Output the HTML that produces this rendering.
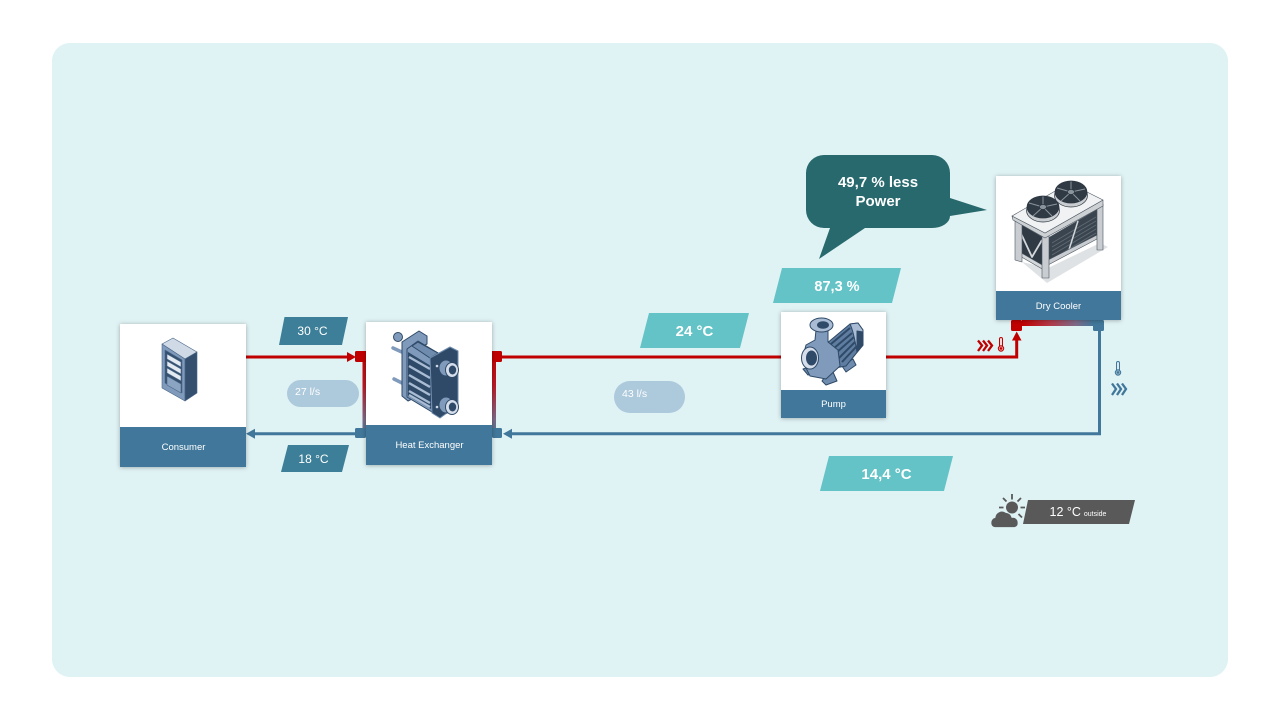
<!DOCTYPE html>
<html><head><meta charset="utf-8">
<style>
html,body{margin:0;padding:0;background:#fff;width:1280px;height:720px;overflow:hidden}
svg{display:block}
text{font-family:"Liberation Sans",sans-serif;fill:#fff;text-anchor:middle}
.b{font-weight:700}
</style></head><body>
<svg width="1280" height="720" viewBox="0 0 1280 720" xmlns="http://www.w3.org/2000/svg">
<defs>
<filter id="s" x="-10%" y="-10%" width="120%" height="120%"><feDropShadow dx="0" dy="0.5" stdDeviation="2" flood-color="#000" flood-opacity=".3"/></filter>
<linearGradient id="gv" x1="0" y1="0" x2="0" y2="1"><stop offset="0" stop-color="#c00000"/><stop offset=".4" stop-color="#bb1a26"/><stop offset=".8" stop-color="#7d6a88"/><stop offset="1" stop-color="#40779a"/></linearGradient>
<linearGradient id="gh" x1="0" y1="0" x2="1" y2="0"><stop offset="0" stop-color="#c00000"/><stop offset=".4" stop-color="#b23a4a"/><stop offset=".75" stop-color="#7d6a88"/><stop offset="1" stop-color="#40779a"/></linearGradient>
</defs>
<rect width="1280" height="720" fill="#fff"/>
<rect x="52" y="43" width="1176" height="634" rx="18" fill="#dff2f4"/>

<!-- connectors -->
<rect x="362.500" y="351" width="4" height="86" fill="url(#gv)"/>
<rect x="492" y="351" width="4" height="86" fill="url(#gv)"/>
<rect x="1022" y="320" width="72" height="6" fill="url(#gh)"/>
<path d="M246 357H349" stroke="#c00000" stroke-width="3" fill="none"/>
<path d="M347 352L356 357L347 362Z" fill="#c00000"/>
<path d="M502 357H781M886 357H1016.700V339" stroke="#c00000" stroke-width="3" fill="none"/>
<path d="M1016.700 331.500L1021.500 340.500H1012Z" fill="#c00000"/>
<path d="M254 433.800H355M1099.500 331V433.800H511" stroke="#40779a" stroke-width="3" fill="none"/>
<path d="M246 433.800L255 428.800V438.800Z" fill="#40779a"/>
<path d="M503 433.800L512 428.800V438.800Z" fill="#40779a"/>
<rect x="355" y="351" width="11" height="11" rx="1.500" fill="#c00000"/>
<rect x="492" y="351" width="10" height="11" rx="1.500" fill="#c00000"/>
<rect x="355" y="428" width="11" height="10" rx="1.500" fill="#40779a"/>
<rect x="492" y="428" width="10" height="10" rx="1.500" fill="#40779a"/>
<rect x="1011" y="320" width="11" height="11" rx="1.500" fill="#c00000"/>
<rect x="1093" y="320" width="11" height="11" rx="1.500" fill="#40779a"/>

<!-- cards -->
<g filter="url(#s)"><rect x="120" y="324" width="126" height="143" fill="#fff"/></g>
<rect x="120" y="427" width="126" height="40" fill="#40779a"/>
<text x="183.500" y="450" font-size="9.500">Consumer</text>
<g filter="url(#s)"><rect x="366" y="322" width="126" height="143" fill="#fff"/></g>
<rect x="366" y="425" width="126" height="40" fill="#40779a"/>
<text x="429.500" y="448" font-size="9.500">Heat Exchanger</text>
<g filter="url(#s)"><rect x="781" y="312" width="105" height="106" fill="#fff"/></g>
<rect x="781" y="390" width="105" height="28" fill="#40779a"/>
<text x="833.500" y="407" font-size="9.500">Pump</text>
<g filter="url(#s)"><rect x="996" y="176" width="125" height="144" fill="#fff"/></g>
<rect x="996" y="291" width="125" height="29" fill="#40779a"/>
<text x="1058.500" y="309" font-size="9.500">Dry Cooler</text>

<!-- server icon -->
<g stroke="#4a6688" stroke-width=".6" stroke-linejoin="round">
<path d="M162 344L173 338L197 352L185 359Z" fill="#d0dae6"/>
<path d="M162 344L185 359V401L162 388Z" fill="#7f9abb"/>
<path d="M185 359L197 352V393L185 401Z" fill="#35506e"/>
<path d="M165 350L182 360V393L165 383Z" fill="#35506e"/>
<path d="M167 354L181 362V367L167 359ZM167 361L181 369V374L167 366ZM167 368L181 376V381L167 373Z" fill="#e4eaf1"/>
<path d="M167 376L181 384V393L167 385Z" fill="#8ba4c2"/>
</g>

<!-- heat exchanger icon -->
<g stroke="#2f4a68" stroke-width="1" stroke-linejoin="round">
<circle cx="398" cy="337" r="4.500" fill="#7f9abb"/>
<path d="M393 348L404 353M394 379L404 384" stroke="#7f9abb" stroke-width="3.500" stroke-linecap="round"/>
<path d="M402 342L419 331L427 336V344L412 352V399L408 401L402 396Z" fill="#7f9abb"/>
<path d="M407 349L418 341L438 353L432 412L407 397Z" fill="#7f9abb"/>
<path d="M412 346L418 342L438 353L430 358Z" fill="#6f8cae"/>
<path d="M408 352L431 366V409L408 396Z" fill="#2f4a68" stroke="none"/>
<path d="M409 357L430 369M409 366L430 378M409 375L430 387M409 383L430 395M409 391L430 403M409 395L430 407" stroke="#a9bcd4" stroke-width="2.400" stroke-linecap="butt"/>
<path d="M430 358L450 347L458 351V405L440 418L432 413Z" fill="#2f4a68" stroke="#6f8cae"/>
<circle cx="437" cy="366" r="1.300" fill="#cfd9e6" stroke="none"/>
<circle cx="437" cy="407" r="1.300" fill="#cfd9e6" stroke="none"/>
<ellipse cx="446" cy="368" rx="7" ry="8" fill="#7f9abb"/>
<ellipse cx="452" cy="370" rx="6.500" ry="7.500" fill="#d5deea"/>
<ellipse cx="452.500" cy="370" rx="3.200" ry="4" fill="#2f4a68"/>
<ellipse cx="446" cy="405" rx="7" ry="8" fill="#7f9abb"/>
<ellipse cx="452" cy="407" rx="6.500" ry="7.500" fill="#d5deea"/>
<ellipse cx="452.500" cy="407" rx="3.200" ry="4" fill="#2f4a68"/>
</g>

<!-- pump icon -->
<g stroke="#2f4a68" stroke-width="1" stroke-linejoin="round">
<path d="M842 366L853 359L856 365L846 372ZM803 369L812 366L818 373L808 375ZM824 378L833 372L837 381L826 385L822 381Z" fill="#6f8cae"/>
<path d="M826 344L850 324L858 323L863 330V345L846 366L835 368L826 358Z" fill="#5f7da0"/>
<path d="M850 324L858 323L863 330V345L857 352C855 340 853 330 850 324Z" fill="#a9bcd4"/>
<path d="M857 331L863 332V345L857 352Z" fill="#2f4a68"/>
<path d="M831 344L850 328M833 349L852 333M836 353L854 337M839 358L855 342M842 362L856 347" stroke="#2f4a68" stroke-width="2"/>
<path d="M816 330L828 330L828 342L838 350L840 366L826 379L810 376L802 360L806 345L815 340Z" fill="#7f9abb"/>
<ellipse cx="821.500" cy="325" rx="11.500" ry="7" fill="#a9bcd4"/>
<ellipse cx="823" cy="325" rx="5.500" ry="3.300" fill="#2f4a68"/>
<ellipse cx="810" cy="358" rx="8.500" ry="11" fill="#d5deea"/>
<ellipse cx="811.500" cy="358" rx="5" ry="7" fill="#2f4a68"/>
</g>

<!-- dry cooler icon -->
<path d="M1022 262L1047 283L1108 247L1100 243L1048 268Z" fill="#dfe2e4"/>
<g stroke="#4a5560" stroke-width=".6" stroke-linejoin="round">
<path d="M1017 222L1044 238V268L1018 253Z" fill="#2f3a45"/>
<path d="M1048 238L1098 209V237L1048 263Z" fill="#39444f"/>
<path d="M1052 243L1096 217M1052 247L1096 221M1052 251L1096 225M1052 255L1096 229M1052 259L1096 233" stroke="#5f6a75" stroke-width=".9"/>
<path d="M1068 253L1078 221" stroke="#d4d7da" stroke-width="1.500"/>
<path d="M1018 227L1032 257L1042 240" stroke="#d4d7da" stroke-width="1.800" fill="none"/>
<path d="M1018 251L1044 266V270L1018 255Z" fill="#d4d7da"/>
<path d="M1048 260L1097 235V239L1048 265Z" fill="#c9cdd1"/>
<path d="M1015 220L1022 224V262L1015 260Z" fill="#c9cdd1"/>
<path d="M1042 236L1049 236V278L1042 278Z" fill="#c9cdd1"/>
<path d="M1097 208L1103 204V250L1097 250Z" fill="#c9cdd1"/>
<path d="M1012 216L1013 220L1045 238L1103 206V200L1045 233Z" fill="#cdd1d4"/>
<path d="M1012 216L1069 183L1103 200L1045 233Z" fill="#f1f2f3"/>
</g>
<g stroke="#2b3640" stroke-width=".7">
<ellipse cx="1043" cy="210.500" rx="16.500" ry="11.500" fill="#c9cdd1"/>
<ellipse cx="1043" cy="207" rx="16" ry="11" fill="#2f3a45"/>
<path d="M1043 207L1043 196.500M1043 207L1057 204M1043 207L1052 216M1043 207L1033 216M1043 207L1029 203" stroke="#8a949c" stroke-width="1"/>
<ellipse cx="1043" cy="207" rx="3.500" ry="2.500" fill="#8a949c"/>
<ellipse cx="1071" cy="195.500" rx="16.500" ry="11.500" fill="#c9cdd1"/>
<ellipse cx="1071" cy="192" rx="16" ry="11" fill="#2f3a45"/>
<path d="M1071 192L1071 181.500M1071 192L1085 189M1071 192L1080 201M1071 192L1061 201M1071 192L1057 188" stroke="#8a949c" stroke-width="1"/>
<ellipse cx="1071" cy="192" rx="3.500" ry="2.500" fill="#8a949c"/>
</g>

<!-- parallelogram labels -->
<path d="M284.500 317H348L342 345H279Z" fill="#3d7f98"/>
<text x="312.500" y="335" font-size="12">30 °C</text>
<path d="M288 445H349L342 472H281Z" fill="#3d7f98"/>
<text x="313.500" y="463" font-size="12">18 °C</text>
<path d="M649 313H749L740 348H640Z" fill="#64c3c6"/>
<text x="694.500" y="336" font-size="15" class="b">24 °C</text>
<path d="M782 268H901L892 303H773Z" fill="#64c3c6"/>
<text x="837" y="291" font-size="14.500" class="b">87,3 %</text>
<path d="M829 456H953L944 491H820Z" fill="#64c3c6"/>
<text x="886.500" y="479" font-size="15" class="b">14,4 °C</text>
<path d="M1028 500H1135L1129 524H1023Z" fill="#595959"/>
<text x="1078" y="516" font-size="12.500">12 °C<tspan font-size="7" dx="1"> outside</tspan></text>

<!-- pills -->
<rect x="287" y="380" width="72" height="27" rx="13.500" fill="#adc9dc"/>
<text x="295" y="395" font-size="10.500" style="text-anchor:start">27 l/s</text>
<rect x="614" y="381" width="71" height="32" rx="16" fill="#adc9dc"/>
<text x="622" y="397" font-size="10.500" style="text-anchor:start">43 l/s</text>

<!-- callout -->
<path d="M824 155H932A18 18 0 0 1 950 173V198L987 210L950 216A18 12 0 0 1 932 228H865L819 259L830 228H824A18 18 0 0 1 806 210V173A18 18 0 0 1 824 155Z" fill="#27696d"/>
<text x="878" y="187" font-size="15" class="b">49,7 % less</text>
<text x="878" y="206" font-size="15" class="b">Power</text>

<!-- chevrons + thermometers -->
<path d="M978 340.500L982 345.500L978 351M983 340.500L987 345.500L983 351M988 340.500L992 345.500L988 351" fill="none" stroke="#c00000" stroke-width="2.300"/>
<g fill="none" stroke="#c00000" stroke-width="1"><rect x="999.500" y="337.500" width="3" height="10" rx="1.500" fill="#f3d8da"/><circle cx="1001" cy="348.500" r="2.700" fill="#e59a9e"/><circle cx="1001" cy="348.500" r="1.200" fill="#c00000" stroke="none"/></g>
<path d="M1112 383.500L1116 389L1112 395M1117 383.500L1121 389L1117 395M1122 383.500L1126 389L1122 395" fill="none" stroke="#40779a" stroke-width="2.300"/>
<g fill="none" stroke="#40779a" stroke-width="1"><rect x="1116.500" y="361.500" width="3" height="10" rx="1.500" fill="#dfe9ef"/><circle cx="1118" cy="372.500" r="2.700" fill="#8fb0c5"/><circle cx="1118" cy="372.500" r="1.200" fill="#40779a" stroke="none"/></g>

<!-- weather -->
<g fill="#595959" stroke="none">
<circle cx="1012" cy="507.500" r="6"/>
<path d="M1012 494V499.500M1003 498L1006.500 501.500M1021 498L1017.500 501.500M999 507.500H1003.500M1020.500 507.500H1025M1018.500 514L1022 517.500" stroke="#595959" stroke-width="1.800" fill="none"/>
<path d="M995 527.500A4 4 0 0 1 991 523A5 5 0 0 1 995 517.500A7 7 0 0 1 1006 512.500A7 7 0 0 1 1012 517.500A5 5 0 0 1 1018 523A4 4 0 0 1 1014.500 527.500Z" stroke="#dff2f4" stroke-width=".8"/>
</g>
</svg>
</body></html>
